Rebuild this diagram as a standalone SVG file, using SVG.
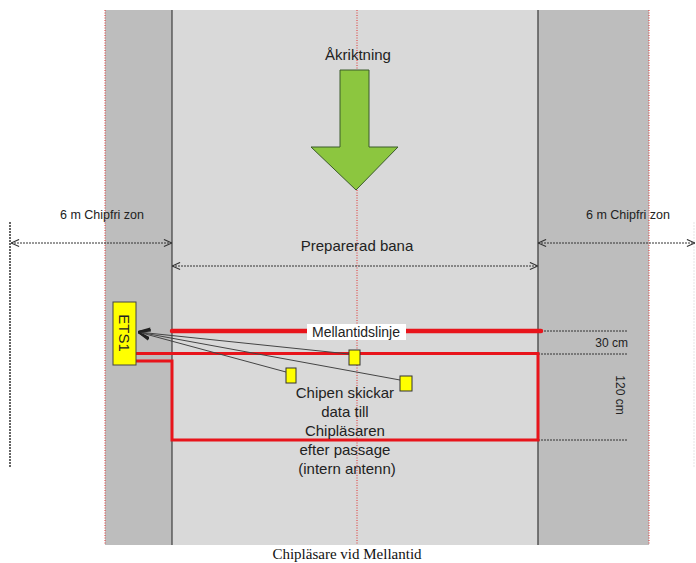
<svg xmlns="http://www.w3.org/2000/svg" width="696" height="563" viewBox="0 0 696 563">
<defs>
<style>
.t{font-family:"Liberation Sans",Arial,sans-serif;fill:#222}
.dim{stroke:#333;stroke-width:1;stroke-dasharray:2,1;fill:none}
.red{stroke:#e8141b;fill:none}
.rdot{stroke:#e03030;stroke-width:1;stroke-dasharray:1,1.5;fill:none}
.chip{fill:#ffff00;stroke:#333;stroke-width:1}
.ray{stroke:#444;stroke-width:1;fill:none}
</style>
<marker id="oa" viewBox="0 0 10 10" refX="10" refY="5" markerWidth="9" markerHeight="9" orient="auto-start-reverse" markerUnits="userSpaceOnUse">
<path d="M1,1 L10,5 L1,9" fill="none" stroke="#333" stroke-width="1.2"/>
</marker>
<marker id="ra" viewBox="0 0 10 10" refX="10" refY="5" markerWidth="12" markerHeight="12" orient="auto" markerUnits="userSpaceOnUse">
<path d="M0,1 L10,5 L0,9" fill="none" stroke="#222" stroke-width="1.5"/>
</marker>
</defs>
<rect width="696" height="563" fill="#fff"/>
<g id="track">
<rect x="105" y="10" width="67" height="535" fill="#bdbdbd"/>
<rect x="172" y="10" width="366" height="535" fill="#d9d9d9"/>
<rect x="538" y="10" width="111" height="535" fill="#bdbdbd"/>
<line x1="172" y1="10" x2="172" y2="545" stroke="#222" stroke-width="1"/>
<line x1="538" y1="10" x2="538" y2="545" stroke="#555" stroke-width="1.5"/>
<line x1="105" y1="10" x2="105" y2="545" class="rdot"/>
<line x1="649" y1="10" x2="649" y2="545" class="rdot"/>
<line x1="357" y1="10" x2="357" y2="545" class="rdot"/>
</g>
<g id="direction">
<text class="t" x="358" y="60" font-size="15" text-anchor="middle">Åkriktning</text>
<path d="M340,70 L369,70 L369,147 L398,147 L356,190 L311,147 L340,147 Z" fill="#8cc63f" stroke="#3a5a2a" stroke-width="1"/>
</g>
<g id="dimensions">
<line x1="10" y1="222" x2="10" y2="468" stroke="#333" stroke-width="1.5" stroke-dasharray="2,1"/>
<line x1="694" y1="222" x2="694" y2="468" stroke="#eee" stroke-width="1.5" stroke-dasharray="2,1"/>
<line x1="11" y1="243" x2="172" y2="243" class="dim" marker-start="url(#oa)" marker-end="url(#oa)"/>
<line x1="538" y1="243" x2="695" y2="243" class="dim" marker-start="url(#oa)" marker-end="url(#oa)"/>
<line x1="172" y1="266" x2="538" y2="266" class="dim" marker-start="url(#oa)" marker-end="url(#oa)"/>
<text class="t" x="102" y="219" font-size="12.5" text-anchor="middle">6 m Chipfri zon</text>
<text class="t" x="628" y="219" font-size="12.5" text-anchor="middle">6 m Chipfri zon</text>
<text class="t" x="357" y="251" font-size="15" text-anchor="middle">Preparerad bana</text>
<line x1="541" y1="331" x2="628" y2="331" class="dim"/>
<line x1="538" y1="354" x2="628" y2="354" class="dim"/>
<line x1="538" y1="440" x2="628" y2="440" class="dim"/>
<text class="t" x="628" y="347" font-size="12" text-anchor="end">30 cm</text>
<text class="t" x="0" y="0" font-size="12" text-anchor="middle" transform="translate(616,395) rotate(90)">120 cm</text>
</g>
<g id="antenna">
<line x1="172" y1="331" x2="541" y2="331" class="red" stroke-width="4.5" stroke-linecap="round"/>
<path d="M136,353.5 L538,353.5 L538,440 L172,440 L172,361 L136,361" class="red" stroke-width="3" stroke-linejoin="miter"/>
</g>
<g id="mellantidslinje">
<rect x="307" y="324" width="99" height="16" fill="#fff"/>
<text class="t" x="356" y="337" font-size="14" text-anchor="middle">Mellantidslinje</text>
</g>
<g id="connectors">
<line x1="349" y1="354" x2="138" y2="332" class="ray" marker-end="url(#ra)"/>
<line x1="400" y1="380" x2="138" y2="332" class="ray" marker-end="url(#ra)"/>
<line x1="286" y1="372" x2="138" y2="332" class="ray" marker-end="url(#ra)"/>
</g>
<g id="ets1">
<rect x="113" y="302" width="23" height="63" fill="#ffff00" stroke="#444" stroke-width="1"/>
<text class="t" x="0" y="0" font-size="15" text-anchor="middle" transform="translate(119,333) rotate(90)">ETS1</text>
</g>
<g id="chip1"><rect x="349" y="350" width="11" height="15" class="chip"/></g>
<g id="chip2"><rect x="286" y="368" width="10" height="15" class="chip"/></g>
<g id="chip3"><rect x="400" y="376" width="12" height="15" class="chip"/></g>
<g id="note">
<text class="t" font-size="15" text-anchor="middle">
<tspan x="347" y="398">Chipen skickar</tspan>
<tspan x="347" y="417">data till</tspan>
<tspan x="347" y="436">Chipläsaren</tspan>
<tspan x="347" y="455">efter passage</tspan>
<tspan x="347" y="474">(intern antenn)</tspan>
</text>
</g>
<text x="347" y="559" font-family="'Liberation Serif','Times New Roman',serif" font-size="15" fill="#111" text-anchor="middle">Chipläsare vid Mellantid</text>
</svg>
